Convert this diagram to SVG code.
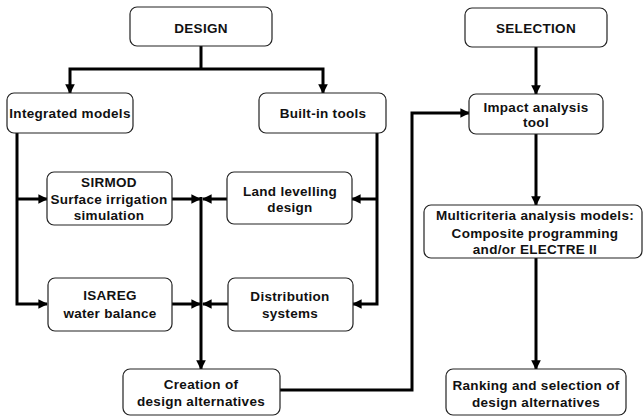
<svg xmlns="http://www.w3.org/2000/svg" width="644" height="416" viewBox="0 0 644 416">
<style>
.box{fill:#fff;stroke:#222;stroke-width:1.2}
.t{font-family:"Liberation Sans",Arial,sans-serif;font-weight:bold;font-size:13.5px;fill:#111;text-anchor:middle;letter-spacing:0.3px}
.c{fill:none;stroke:#000;stroke-width:3}
</style>
<defs>
<marker id="ah" viewBox="0 0 10 10" refX="9" refY="5" markerWidth="3.2" markerHeight="3.2" orient="auto" markerUnits="strokeWidth">
<path d="M0,0 L10,5 L0,10 z" fill="#000"/>
</marker>
</defs>
<rect width="644" height="416" fill="#fff"/>
<g id="connectors">
<path class="c" d="M201,46 V69"/>
<path class="c" d="M201,69 H70 V93" marker-end="url(#ah)"/>
<path class="c" d="M201,69 H323 V93" marker-end="url(#ah)"/>
<path class="c" d="M17,133 V304 H47" marker-end="url(#ah)"/>
<path class="c" d="M17,199 H47" marker-end="url(#ah)"/>
<path class="c" d="M377,133 V304 H353" marker-end="url(#ah)"/>
<path class="c" d="M377,199 H352" marker-end="url(#ah)"/>
<path class="c" d="M172,199 H200" marker-end="url(#ah)"/>
<path class="c" d="M227,199 H203" marker-end="url(#ah)"/>
<path class="c" d="M172,304 H200" marker-end="url(#ah)"/>
<path class="c" d="M228,304 H203" marker-end="url(#ah)"/>
<path class="c" d="M201,197 V369" marker-end="url(#ah)"/>
<path class="c" d="M280,390 H412 V113 H469" marker-end="url(#ah)"/>
<path class="c" d="M536,47 V94" marker-end="url(#ah)"/>
<path class="c" d="M536,134 V205" marker-end="url(#ah)"/>
<path class="c" d="M536,258 V369" marker-end="url(#ah)"/>
</g>
<g id="design"><rect class="box" x="130" y="7" width="142" height="39" rx="7"/><text class="t" x="201" y="33">DESIGN</text></g>
<g id="integrated"><rect class="box" x="7" y="93" width="126" height="40" rx="7"/><text class="t" x="70" y="118">Integrated models</text></g>
<g id="builtin"><rect class="box" x="259" y="93" width="127" height="40" rx="7"/><text class="t" x="323" y="118">Built-in tools</text></g>
<g id="sirmod"><rect class="box" x="47" y="172" width="125" height="53" rx="7"/><text class="t" x="109" y="187">SIRMOD</text><text class="t" x="109" y="204">Surface irrigation</text><text class="t" x="109" y="220">simulation</text></g>
<g id="landlevelling"><rect class="box" x="227" y="172" width="125" height="52" rx="7"/><text class="t" x="290" y="196">Land levelling</text><text class="t" x="290" y="212">design</text></g>
<g id="isareg"><rect class="box" x="48" y="278" width="124" height="53" rx="7"/><text class="t" x="110" y="300">ISAREG</text><text class="t" x="110" y="318">water balance</text></g>
<g id="distribution"><rect class="box" x="228" y="278" width="125" height="53" rx="7"/><text class="t" x="290" y="301">Distribution</text><text class="t" x="290" y="318">systems</text></g>
<g id="creation"><rect class="box" x="123" y="369" width="157" height="46" rx="7"/><text class="t" x="201" y="389">Creation of</text><text class="t" x="201" y="406">design alternatives</text></g>
<g id="selection"><rect class="box" x="465" y="8" width="142" height="39" rx="7"/><text class="t" x="536" y="33">SELECTION</text></g>
<g id="impact"><rect class="box" x="469" y="94" width="134" height="40" rx="7"/><text class="t" x="536" y="112">Impact analysis</text><text class="t" x="536" y="127">tool</text></g>
<g id="multicriteria"><rect class="box" x="424" y="205" width="218" height="53" rx="7"/><text class="t" x="535" y="220">Multicriteria analysis models:</text><text class="t" x="535" y="238">Composite programming</text><text class="t" x="535" y="254">and/or ELECTRE II</text></g>
<g id="ranking"><rect class="box" x="446" y="369" width="180" height="46" rx="7"/><text class="t" x="536" y="390">Ranking and selection of</text><text class="t" x="536" y="407">design alternatives</text></g>
</svg>
